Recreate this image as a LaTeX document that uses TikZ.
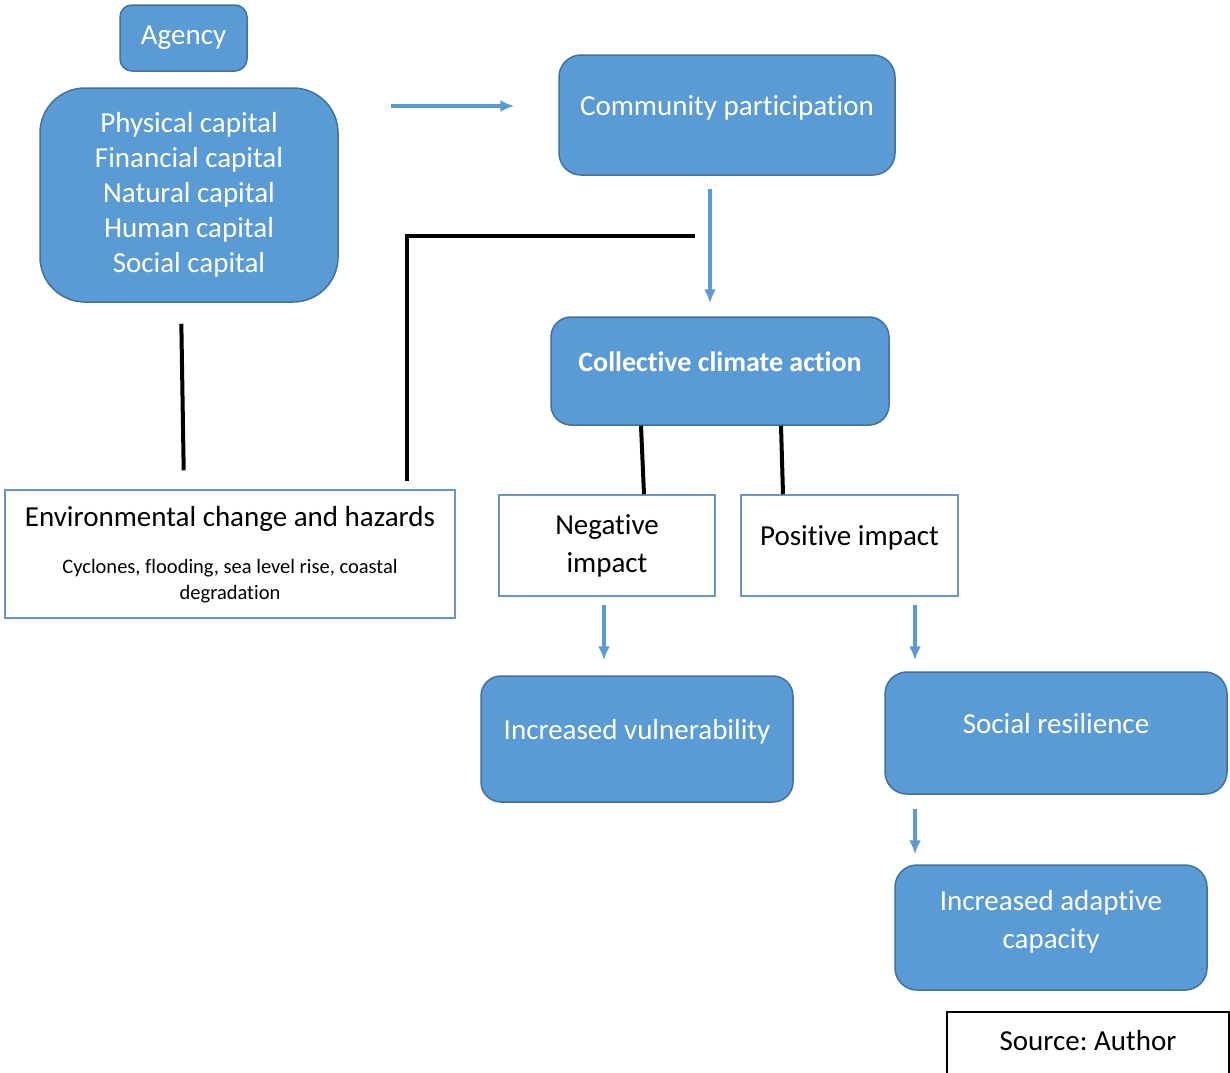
\documentclass[tikz,border=0pt]{standalone}
\usepackage{fontspec}
\setmainfont{Carlito}[Ligatures={NoCommon}]
\usetikzlibrary{shapes,arrows,arrows.meta}
\definecolor{bleu}{HTML}{5B9BD5}
\definecolor{bord}{HTML}{41719C}
\definecolor{cadrebleu}{HTML}{6A93D4}
\frenchspacing

\begin{document}
\begin{tikzpicture}[x=1pt,y=-1pt]
	\tikzset{bloc/.style={rectangle, rounded corners=22pt, fill=bleu, draw=bord, line width=1.5pt, text=white, inner sep=0pt, align=center, font=\fontsize{29}{35}\selectfont},
		haut/.style={text height=20pt, text depth=20pt},
		cadre/.style={rectangle, draw=cadrebleu, line width=1.5pt, fill=white, inner sep=0pt, align=center, font=\fontsize{29}{38}\selectfont},
		fleche/.style={-{Latex[length=14pt,width=12pt]}, line width=3.5pt, bleu},
		trait/.style={line width=4pt, black}};
	\clip (0,0) rectangle (1230,1072);
	\fill[white] (0,0) rectangle (1230,1072);
	% left column
	\node[bloc, rounded corners=12pt, minimum width=127pt, minimum height=66pt] (agency) at (183.5,38) {Agency};
	\node[bloc, rounded corners=45pt, minimum width=298pt, minimum height=214pt] (capitals) at (189,195) {Physical capital\\Financial capital\\Natural capital\\Human capital\\Social capital};
	\node[cadre, minimum width=450pt, minimum height=128pt] (env) at (230,554) {};
	\node[font=\fontsize{29}{34}\selectfont] (envtitre) at (230,519) {Environmental change and hazards};
	\node[font=\fontsize{20.5}{26}\selectfont, align=center] (envtexte) at (230,581) {Cyclones, flooding, sea level rise, coastal\\degradation};
	% right part
	\node[bloc, haut, minimum width=336pt, minimum height=120pt] (community) at (727,115) {Community participation};
	\node[bloc, haut, rounded corners=20pt, minimum width=338pt, minimum height=108pt, font=\fontsize{28}{35}\bfseries] (collective) at (720,371) {Collective climate action};
	\node[cadre, minimum width=216pt, minimum height=101pt] (neg) at (607,545.5) {Negative\\impact};
	\node[cadre, haut, minimum width=217pt, minimum height=101pt] (pos) at (849.5,545.5) {Positive impact};
	\node[bloc, haut, rounded corners=20pt, minimum width=312pt, minimum height=126pt] (vuln) at (637,739) {Increased vulnerability};
	\node[bloc, haut, minimum width=342pt, minimum height=122pt] (social) at (1056,733) {Social resilience};
	\node[bloc, minimum width=312pt, minimum height=125pt, font=\fontsize{29}{38}\selectfont] (adaptive) at (1051,927.5) {};
	\node[text=white, align=center, font=\fontsize{29}{38}\selectfont] (adaptivetexte) at ([yshift=6pt]adaptive.center) {Increased adaptive\\capacity};
	\node[rectangle, draw=black, line width=1.5pt, minimum width=282pt, minimum height=70pt, text height=20pt, text depth=14pt, font=\fontsize{29}{34}\selectfont] (source) at (1088,1047) {Source: Author};
	% arrows
	\coordinate (h) at ([yshift=89pt]capitals.east);
	\draw[fleche, shorten <=52pt, shorten >=44pt] (h) -- (h -| community.west);
	\draw[fleche, shorten <=13pt, shorten >=13pt] ([xshift=-17pt]community.south) -- ([xshift=-17pt]community.south |- collective.north);
	\draw[fleche, shorten <=8pt, shorten >=15pt] ([xshift=-3pt]neg.south) -- ([xshift=-3pt]neg.south |- vuln.north);
	\draw[fleche, shorten <=8pt, shorten >=11pt] ([xshift=65.5pt]pos.south) -- ([xshift=65.5pt]pos.south |- social.north);
	\draw[fleche, shorten <=14pt, shorten >=10pt] ([xshift=-141pt]social.south) -- ([xshift=-141pt]social.south |- adaptive.north);
	% black lines
	\coordinate (coin) at (695,236);
	\draw[trait, shorten <=21pt, shorten >=19pt] ([xshift=-8pt]capitals.south) -- ([xshift=-46pt]env.north);
	\draw[trait, shorten <=8pt] ([xshift=177pt]env.north) |- (coin);
	\draw[trait] ([xshift=-79pt]collective.south) -- ([xshift=37pt]neg.north);
	\draw[trait] ([xshift=61pt]collective.south) -- ([xshift=-66.5pt]pos.north);
\end{tikzpicture}
\end{document}
